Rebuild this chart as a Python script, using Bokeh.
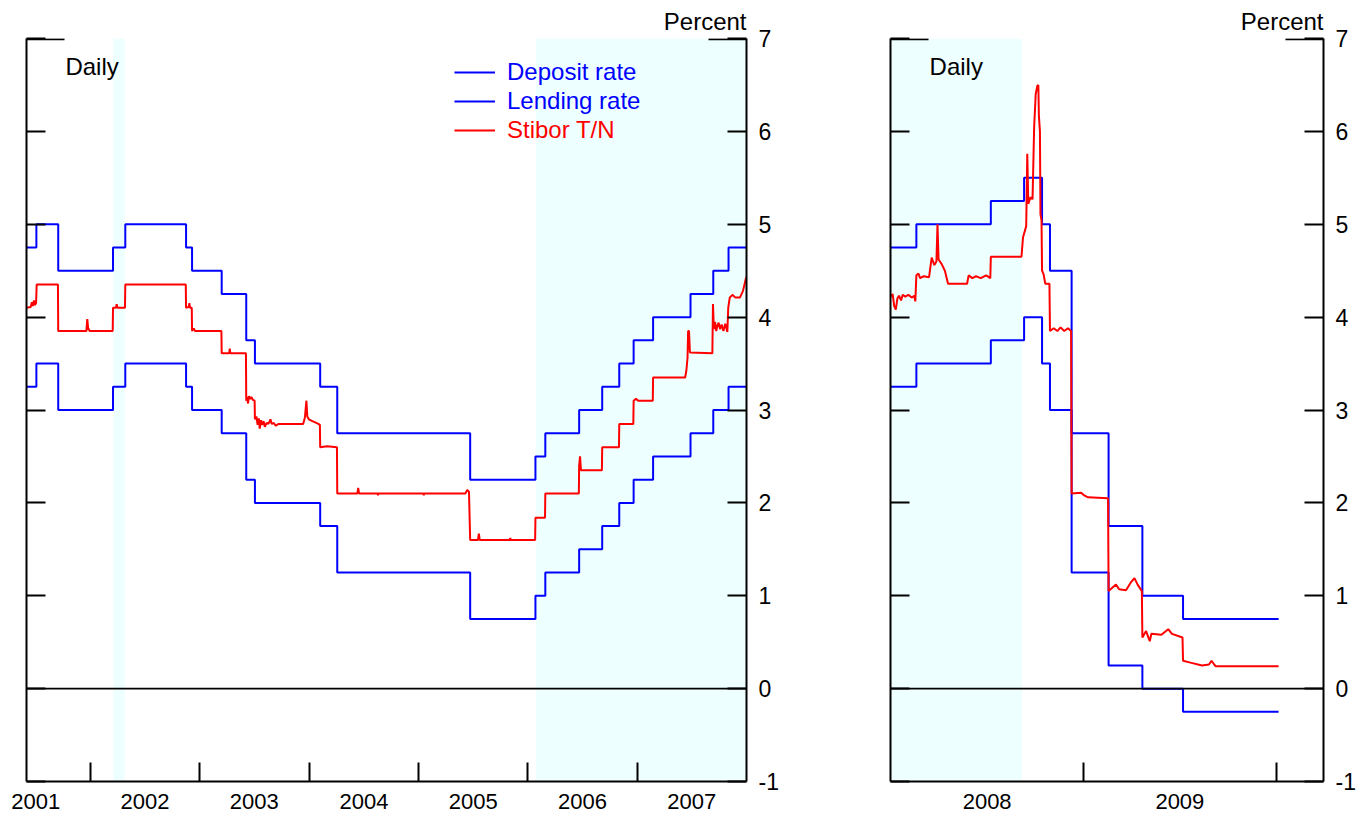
import pandas as pd
from bokeh.plotting import figure
from bokeh.models import (Range1d, LinearAxis, FixedTicker, DatetimeTickFormatter,
                          BoxAnnotation, Span, Label, Legend, LegendItem, Title)
from bokeh.layouts import row
from bokeh.embed import file_html
from bokeh.resources import INLINE

FONT = "Liberation Sans"
BLUE = "#0000FF"
RED = "#FF0000"
SHADE = "#EEFFFF"

# ---------------- data: panel 1 (Jun 2001 - Dec 2007) ----------------
rate_dates_1 = ["2001-06-01", "2001-07-04", "2001-09-15", "2002-03-17", "2002-04-27",
                "2002-11-16", "2002-12-06", "2003-03-15", "2003-06-05", "2003-07-04",
                "2004-02-07", "2004-04-04", "2005-06-22", "2006-01-26", "2006-02-28",
                "2006-06-21", "2006-09-06", "2006-11-02", "2006-12-20", "2007-02-23",
                "2007-06-28", "2007-09-12", "2007-11-02", "2008-01-01"]
lending_1 = [4.75, 5.00, 4.50, 4.75, 5.00, 4.75, 4.50, 4.25, 3.75, 3.50, 3.25, 2.75,
             2.25, 2.50, 2.75, 3.00, 3.25, 3.50, 3.75, 4.00, 4.25, 4.50, 4.75, 4.75]
deposit_1 = [3.25, 3.50, 3.00, 3.25, 3.50, 3.25, 3.00, 2.75, 2.25, 2.00, 1.75, 1.25,
             0.75, 1.00, 1.25, 1.50, 1.75, 2.00, 2.25, 2.50, 2.75, 3.00, 3.25, 3.25]

stibor_dates_1 = [
    "2001-06-01", "2001-06-15", "2001-06-19", "2001-06-22", "2001-06-26", "2001-06-29",
    "2001-07-03", "2001-07-05", "2001-09-14", "2001-09-15", "2001-12-18", "2001-12-21",
    "2001-12-24", "2001-12-29", "2002-03-16", "2002-03-17", "2002-03-27", "2002-03-29",
    "2002-04-01", "2002-04-26", "2002-04-27", "2002-11-15", "2002-11-16", "2002-11-25",
    "2002-11-27", "2002-11-29", "2002-12-05", "2002-12-06", "2002-12-12", "2002-12-16",
    "2003-03-14", "2003-03-15", "2003-04-09", "2003-04-11", "2003-04-13", "2003-06-04",
    "2003-06-05", "2003-06-08", "2003-06-11", "2003-06-14", "2003-06-18", "2003-06-22",
    "2003-06-27", "2003-07-03", "2003-07-04", "2003-07-09", "2003-07-13", "2003-07-17",
    "2003-07-20", "2003-07-24", "2003-07-28", "2003-08-02", "2003-08-06", "2003-08-12",
    "2003-08-18", "2003-08-25", "2003-08-29", "2003-09-05", "2003-09-12", "2003-09-20",
    "2003-10-08", "2003-12-12", "2003-12-18", "2003-12-23", "2003-12-26", "2003-12-31",
    "2004-01-12", "2004-02-01", "2004-02-06", "2004-02-07", "2004-03-01", "2004-04-03",
    "2004-04-04", "2004-06-10", "2004-06-13", "2004-06-16", "2004-08-17", "2004-08-18",
    "2004-08-19", "2005-01-17", "2005-01-18", "2005-01-19", "2005-06-06", "2005-06-12",
    "2005-06-18", "2005-06-22", "2005-07-18", "2005-07-21", "2005-07-24", "2005-11-01",
    "2005-11-03", "2005-11-05", "2006-01-25", "2006-01-26", "2006-02-27", "2006-02-28",
    "2006-06-20", "2006-06-21", "2006-06-24", "2006-06-27", "2006-09-05", "2006-09-06",
    "2006-11-01", "2006-11-02", "2006-12-19", "2006-12-20", "2006-12-28", "2007-01-04",
    "2007-02-22", "2007-02-23", "2007-06-10", "2007-06-14", "2007-06-18", "2007-06-20",
    "2007-06-23", "2007-06-26", "2007-09-09", "2007-09-11", "2007-09-14", "2007-09-18",
    "2007-09-22", "2007-09-26", "2007-09-30", "2007-10-05", "2007-10-10", "2007-10-16",
    "2007-10-22", "2007-10-29", "2007-11-01", "2007-11-06", "2007-11-15", "2007-11-25",
    "2007-12-10", "2007-12-20", "2007-12-31"]
stibor_1 = [
    4.10, 4.11, 4.16, 4.12, 4.18, 4.13,
    4.15, 4.35, 4.35, 3.85, 3.85, 3.98,
    3.88, 3.85, 3.85, 4.10, 4.10, 4.14,
    4.10, 4.10, 4.35, 4.35, 4.10, 4.11,
    4.15, 4.10, 4.10, 3.85, 3.88, 3.85,
    3.85, 3.61, 3.61, 3.66, 3.61, 3.61,
    3.10, 3.14, 3.07, 3.15, 3.12, 3.14,
    3.11, 3.10, 2.90, 2.93, 2.84, 2.91,
    2.80, 2.89, 2.84, 2.88, 2.82, 2.86,
    2.85, 2.90, 2.85, 2.86, 2.83, 2.85,
    2.85, 2.85, 2.92, 3.10, 2.93, 2.90,
    2.88, 2.85, 2.84, 2.60, 2.61, 2.60,
    2.10, 2.10, 2.16, 2.10, 2.10, 2.08,
    2.10, 2.10, 2.08, 2.10, 2.10, 2.14,
    2.12, 1.60, 1.60, 1.67, 1.60, 1.60,
    1.62, 1.60, 1.60, 1.84, 1.84, 2.10,
    2.10, 2.40, 2.50, 2.35, 2.35, 2.60,
    2.60, 2.85, 2.85, 3.10, 3.12, 3.10,
    3.10, 3.35, 3.35, 3.42, 3.56, 3.85,
    3.85, 3.62, 3.61, 4.14, 3.87, 3.95,
    3.85, 3.91, 3.94, 3.87, 3.92, 3.85,
    3.93, 3.84, 4.10, 4.21, 4.24, 4.21,
    4.21, 4.28, 4.43]

# ---------------- data: panel 2 (2008 - 2009) ----------------
rate_dates_2 = ["2008-01-01", "2008-02-19", "2008-07-09", "2008-09-10", "2008-10-14",
                "2008-10-29", "2008-12-09", "2009-02-17", "2009-04-22", "2009-07-08",
                "2010-01-05"]
lending_2 = [4.75, 5.00, 5.25, 5.50, 5.00, 4.50, 2.75, 1.75, 1.00, 0.75, 0.75]
deposit_2 = [3.25, 3.50, 3.75, 4.00, 3.50, 3.00, 1.25, 0.25, 0.00, -0.25, -0.25]

stibor_dates_2 = [
    "2008-01-02", "2008-01-05", "2008-01-08", "2008-01-11", "2008-01-14", "2008-01-17",
    "2008-01-21", "2008-01-24", "2008-01-29", "2008-02-04", "2008-02-10", "2008-02-15",
    "2008-02-17", "2008-02-19", "2008-02-23", "2008-02-26", "2008-03-04", "2008-03-14",
    "2008-03-19", "2008-03-24", "2008-03-28", "2008-03-30", "2008-04-01", "2008-04-07",
    "2008-04-13", "2008-04-19", "2008-05-25", "2008-05-28", "2008-06-04", "2008-06-11",
    "2008-06-20", "2008-06-30", "2008-07-08", "2008-07-09", "2008-09-05", "2008-09-08",
    "2008-09-14", "2008-09-16", "2008-09-18", "2008-09-22", "2008-09-26", "2008-09-29",
    "2008-10-02", "2008-10-05", "2008-10-07", "2008-10-08", "2008-10-10", "2008-10-11",
    "2008-10-13", "2008-10-14", "2008-10-17", "2008-10-20", "2008-10-28", "2008-10-29",
    "2008-11-05", "2008-11-12", "2008-11-18", "2008-11-25", "2008-12-02", "2008-12-08",
    "2008-12-09", "2008-12-27", "2009-01-02", "2009-01-09", "2009-02-16", "2009-02-17",
    "2009-03-03", "2009-03-09", "2009-03-22", "2009-04-01", "2009-04-07", "2009-04-13",
    "2009-04-21", "2009-04-22", "2009-04-29", "2009-05-06", "2009-05-09", "2009-05-28",
    "2009-06-10", "2009-06-17", "2009-07-07", "2009-07-08", "2009-07-22", "2009-08-13",
    "2009-08-26", "2009-08-31", "2009-09-05", "2009-09-08", "2010-01-05"]
stibor_2 = [
    4.22, 4.25, 4.12, 4.08, 4.20, 4.23,
    4.18, 4.24, 4.22, 4.24, 4.21, 4.23,
    4.17, 4.45, 4.47, 4.42, 4.44, 4.43,
    4.64, 4.56, 4.60, 5.00, 4.62, 4.57,
    4.50, 4.36, 4.36, 4.45, 4.42, 4.44,
    4.42, 4.45, 4.42, 4.65, 4.65, 4.86,
    4.98, 5.76, 5.22, 5.29, 5.27, 6.04,
    6.40, 6.49, 6.50, 6.17, 6.00, 5.11,
    5.04, 4.50, 4.46, 4.36, 4.36, 3.85,
    3.88, 3.85, 3.89, 3.85, 3.88, 3.85,
    2.10, 2.11, 2.08, 2.06, 2.05, 1.05,
    1.12, 1.07, 1.06, 1.15, 1.19, 1.12,
    1.05, 0.55, 0.62, 0.51, 0.59, 0.58,
    0.64, 0.59, 0.55, 0.30, 0.28, 0.25,
    0.26, 0.30, 0.26, 0.24, 0.24]

# tightening periods (shaded)
shade_starts = ["2002-03-18", "2006-01-27"]
shade_ends = ["2002-04-25", "2008-09-06"]

y_ticks = [-1, 0, 1, 2, 3, 4, 5, 6, 7]
year_labels_1 = [2001, 2002, 2003, 2004, 2005, 2006, 2007]
year_labels_2 = [2008, 2009]


def ms(s):
    return pd.Timestamp(s).value / 1e6


def make_panel(x_start, x_end, frame_w, border_left, border_right, years, rate_dates,
               lending, deposit, st_dates, st_vals, daily_at, stub_days, legend=False):
    p = figure(frame_width=frame_w, frame_height=743, x_axis_type="datetime",
               x_range=Range1d(ms(x_start), ms(x_end)), y_range=Range1d(-1, 7),
               output_backend="svg", toolbar_location=None,
               min_border_left=border_left, min_border_right=border_right,
               min_border_top=38, min_border_bottom=34)
    p.outline_line_color = None
    p.grid.visible = False
    p.background_fill_color = "white"
    p.border_fill_color = "white"

    # shading
    for s, e in zip(shade_starts, shade_ends):
        a, b = max(ms(s), ms(x_start)), min(ms(e), ms(x_end))
        if a < b:
            p.add_layout(BoxAnnotation(left=a, right=b, fill_color=SHADE,
                                       fill_alpha=1.0, line_color=None, level="underlay"))

    rd = pd.to_datetime(rate_dates)
    r_dep = p.step(rd, deposit, mode="after", line_color=BLUE, line_width=2)
    r_len = p.step(rd, lending, mode="after", line_color=BLUE, line_width=2)
    r_st = p.line(pd.to_datetime(st_dates), st_vals, line_color=RED, line_width=2)

    p.add_layout(Span(location=0, dimension="width", line_color="black", line_width=1.8))

    # x axis: labels mid-year, tick marks at year boundaries
    xa = p.xaxis[0]
    mids = [ms(f"{y}-07-02") for y in years]
    bounds = [ms(f"{y}-01-01") for y in range(years[0] + 1, years[-1] + 2)
              if ms(x_start) < ms(f"{y}-01-01") < ms(x_end) - 1e9]
    xa.ticker = FixedTicker(ticks=mids, minor_ticks=bounds)
    xa.formatter = DatetimeTickFormatter(years="%Y", months="%Y", days="%Y",
                                         hours="%Y", minutes="%Y", seconds="%Y")
    xa.major_tick_in = 0
    xa.major_tick_out = 0
    xa.minor_tick_in = 19
    xa.minor_tick_out = 0
    xa.minor_tick_line_width = 2
    xa.minor_tick_line_color = "black"
    xa.axis_line_width = 2
    xa.axis_line_color = "black"
    xa.major_label_standoff = 12
    xa.major_label_text_font = FONT
    xa.major_label_text_font_size = "22px"
    xa.major_label_text_color = "black"

    # left y axis: ticks only
    ya = p.yaxis[0]
    ya.ticker = FixedTicker(ticks=y_ticks)
    ya.major_tick_in = 19
    ya.major_tick_out = 0
    ya.minor_tick_in = 0
    ya.minor_tick_out = 0
    ya.major_tick_line_width = 2
    ya.axis_line_width = 2
    ya.axis_line_color = "black"
    ya.major_label_text_font_size = "1px"
    ya.major_label_text_alpha = 0
    ya.major_label_standoff = 0

    # right y axis with labels
    ra = LinearAxis(ticker=FixedTicker(ticks=y_ticks))
    ra.major_label_overrides = {-1: "-1"}
    ra.major_tick_in = 19
    ra.major_tick_out = 0
    ra.minor_tick_in = 0
    ra.minor_tick_out = 0
    ra.major_tick_line_width = 2
    ra.axis_line_width = 2
    ra.axis_line_color = "black"
    ra.major_label_standoff = 12
    ra.major_label_text_font = FONT
    ra.major_label_text_font_size = "23px"
    ra.major_label_text_color = "black"
    p.add_layout(ra, "right")

    # longer stubs at the top corners
    day = 86400000.0
    p.segment(x0=[ms(x_start), ms(x_end) - stub_days * day],
              x1=[ms(x_start) + stub_days * day, ms(x_end)],
              y0=[6.992, 6.992], y1=[6.992, 6.992], line_color="black", line_width=2)

    p.add_layout(Title(text="Percent", align="right", text_font=FONT,
                       text_font_size="24px", text_font_style="normal",
                       text_color="black", standoff=8), "above")
    p.add_layout(Label(x=ms(daily_at), y=6.70, text="Daily", text_align="left",
                       text_baseline="middle", text_font=FONT,
                       text_font_size="24px", text_color="black"))

    if legend:
        entries = [("Deposit rate", r_dep, BLUE, 695),
                   ("Lending rate", r_len, BLUE, 666),
                   ("Stibor T/N", r_st, RED, 637)]
        for lab, rend, col, ly in entries:
            lg = Legend(items=[LegendItem(label=lab, renderers=[rend])],
                        location=(428, ly), padding=0, margin=0, spacing=0,
                        glyph_width=41, glyph_height=20, label_standoff=12,
                        label_height=20, border_line_color=None,
                        background_fill_alpha=0, label_text_font=FONT,
                        label_text_font_size="24px", label_text_color=col)
            p.add_layout(lg, "center")
    return p


p1 = make_panel("2001-06-01", "2008-01-01", 720, 26, 126, year_labels_1, rate_dates_1,
                lending_1, deposit_1, stibor_dates_1, stibor_1, "2001-10-09", 127,
                legend=True)
p2 = make_panel("2008-01-01", "2010-03-31", 433, 18, 44, year_labels_2, rate_dates_2,
                lending_2, deposit_2, stibor_dates_2, stibor_2, "2008-03-15", 72)

layout = row(p1, p2)
open("out.html", "w").write(file_html(layout, INLINE))
